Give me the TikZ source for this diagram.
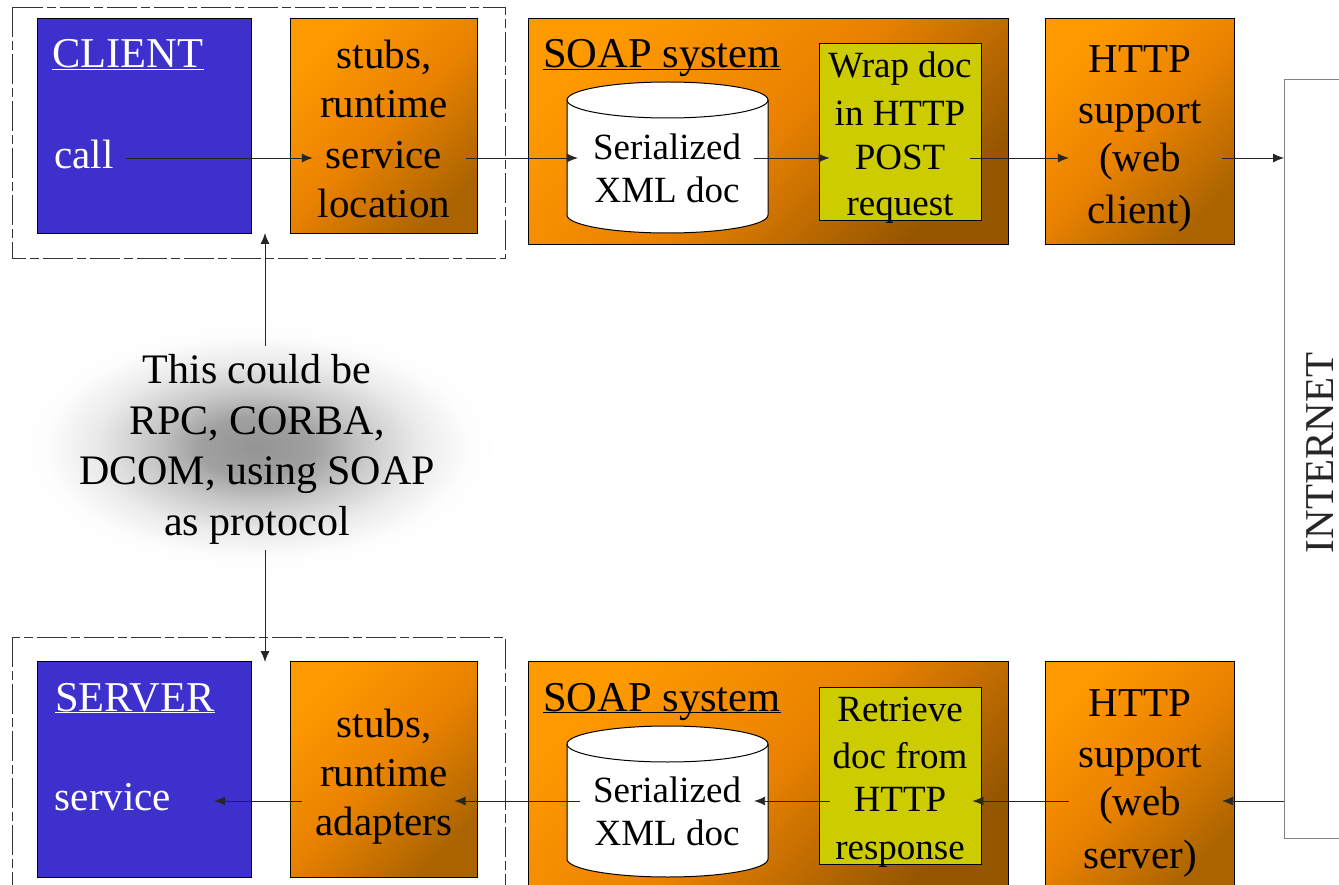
\documentclass[tikz,border=0pt]{standalone}
\usepackage{fontspec}
\setmainfont{Liberation Serif}
\usetikzlibrary{arrows.meta,positioning,calc,shadings}
\definecolor{clientblue}{RGB}{62,48,204}
\definecolor{orangehi}{RGB}{255,153,0}
\definecolor{orangemid}{RGB}{234,130,0}
\definecolor{orangelo}{RGB}{172,100,0}
\definecolor{soaplo}{RGB}{150,86,0}
\definecolor{wrapgreen}{RGB}{204,204,0}
\definecolor{netgray}{RGB}{130,130,130}
\pgfdeclareradialshading{glowshade}{\pgfpoint{0bp}{0bp}}{color(0bp)=(black!42); color(6bp)=(black!37); color(11bp)=(black!22); color(17bp)=(black!8); color(22bp)=(black!1); color(25bp)=(white); color(50bp)=(white)}
\newcommand{\ultext}[1]{\underline{\smash{#1}}}
\tikzset{
  blockbox/.style={draw=black,line width=1pt,top color=orangehi,bottom color=orangelo,middle color=orangemid,shading angle=45},
  soapbox/.style={draw=black,line width=1pt,top color=orangehi,bottom color=soaplo,middle color=orangemid,shading angle=45},
  clientbox/.style={draw=black,line width=1pt,fill=clientblue},
  wrapbox/.style={draw=black,line width=1pt,fill=wrapgreen},
  framebox/.style={draw=black!80,line width=0.9pt,dash pattern=on 30pt off 4pt on 9pt off 4pt},
  txt/.style={font=\fontsize{41}{41}\selectfont,inner sep=0pt,anchor=base},
  small/.style={font=\fontsize{37}{37}\selectfont,inner sep=0pt,anchor=base},
  note/.style={font=\fontsize{42}{42}\selectfont,inner sep=0pt,anchor=base},
  head/.style={font=\fontsize{42.5}{42.5}\selectfont,inner sep=0pt,anchor=base},
  whitetxt/.style={text=white},
  link/.style={-{Latex[length=11pt,width=9pt]},line width=0.9pt,black!85}
}
\begin{document}
\begin{tikzpicture}[x=1pt,y=-1pt]
    \clip (0,0) rectangle (1339,885);
    \useasboundingbox (0,0) rectangle (1339,885);

    % glow behind the note
    \shade[shading=glowshade] (257,447) ellipse (240 and 125);

    % dashed frames
    \draw[framebox] (12,7) rectangle (505,258);
    \draw[framebox] (12,637) rectangle (505,900);

    % top row
    \draw[clientbox] (37,19) rectangle (251,234);
    \draw[blockbox] (290,19) rectangle (477,234);
    \draw[soapbox] (528,19) rectangle (1008,245);
    \draw[blockbox] (1045,19) rectangle (1234,245);
    \draw[wrapbox] (819,44) rectangle (981,221);

    % bottom row
    \draw[clientbox] (37,661) rectangle (251,877);
    \draw[blockbox] (290,661) rectangle (477,877);
    \draw[soapbox] (528,661) rectangle (1008,889);
    \draw[blockbox] (1045,661) rectangle (1234,889);
    \draw[wrapbox] (819,687) rectangle (981,864);

    % cylinders
    \foreach \y in {0,644} {
      \draw[fill=white,line width=1pt] (567,100+\y) -- (567,215+\y) arc[start angle=180,end angle=0,x radius=100.5,y radius=18] -- (768,100+\y) arc[start angle=0,end angle=-180,x radius=100.5,y radius=18];
      \draw[line width=1pt] (567,100+\y) arc[start angle=180,end angle=0,x radius=100.5,y radius=18];
    }

    % internet
    \draw[netgray,line width=1pt] (1345,80) -- (1284,80) -- (1284,838) -- (1345,838);
    \node[font=\fontsize{41}{41}\selectfont,inner sep=0pt,anchor=base,rotate=90,text=black!85] (internet) at (1333,453) {INTERNET};

    % arrow rows
    \coordinate (row1) at (0,158);
    \coordinate (row2) at (0,801);
    \coordinate (net1) at (1284,158);
    \coordinate (net2) at (1284,801);
    \coordinate (topend) at (265,233);
    \coordinate (botend) at (265,662);

    % client texts
    \node[head,whitetxt] (client) at (128,68) {\ultext{CLIENT}};
    \node[txt,whitetxt] (call) at (84,169) {call};
    \node[txt] (stubs1) at (384,69) {stubs,};
    \node[txt] (run1) at (384,118) {runtime};
    \node[txt] (loc1) at (384,169) {service};
    \node[txt] (loc2) at (384,218) {location};
    \node[head] (soap1) at (662,68) {\ultext{SOAP system}};
    \node[small] (doc1) at (667,160) {Serialized};
    \node[small] (doc2) at (667,203) {XML doc};
    \node[small] (wrap1) at (900,78) {Wrap doc};
    \node[small] (wrap2) at (900,126) {in HTTP};
    \node[small] (wrap3) at (900,170) {POST};
    \node[small] (wrap4) at (900,216) {request};
    \node[txt] (http1) at (1140,73) {HTTP};
    \node[txt] (http2) at (1140,124) {support};
    \node[txt] (http3) at (1140,172) {(web};
    \node[txt] (http4) at (1140,224) {client)};

    % note
    \node[note] (note1) at (257,384) {This could be};
    \node[note] (note2) at (257,434) {RPC, CORBA,};
    \node[note] (note3) at (257,484) {DCOM, using SOAP};
    \node[note] (note4) at (257,535) {as protocol};

    % server texts
    \node[head,whitetxt] (server) at (135,711) {\ultext{SERVER}};
    \node[txt,whitetxt] (service) at (113,810) {service};
    \node[txt] (stubs2) at (384,737) {stubs,};
    \node[txt] (run2) at (384,786) {runtime};
    \node[txt] (adapt) at (384,835) {adapters};
    \node[head] (soap2) at (662,711) {\ultext{SOAP system}};
    \node[small] (doc3) at (667,802) {Serialized};
    \node[small] (doc4) at (667,845) {XML doc};
    \node[small] (ret1) at (900,721) {Retrieve};
    \node[small] (ret2) at (900,768) {doc from};
    \node[small] (ret3) at (900,811) {HTTP};
    \node[small] (ret4) at (900,859) {response};
    \node[txt] (http5) at (1140,716) {HTTP};
    \node[txt] (http6) at (1140,767) {support};
    \node[txt] (http7) at (1140,815) {(web};
    \node[txt] (http8) at (1140,868) {server)};

    % connectors
    \draw[link,shorten <=12pt,shorten >=13pt] (call.east |- row1) -- (loc1.west |- row1);
    \draw[link,shorten <=24pt,shorten >=15pt] (loc1.east |- row1) -- (doc1.west |- row1);
    \draw[link,shorten <=13pt,shorten >=25pt] (doc1.east |- row1) -- (wrap3.west |- row1);
    \draw[link,shorten <=25pt,shorten >=30pt] (wrap3.east |- row1) -- (http3.west |- row1);
    \draw[link,shorten <=41pt] (http3.east |- row1) -- (net1);
    \draw[link,shorten >=41pt] (net2) -- (http7.east |- row2);
    \draw[link,shorten <=30pt,shorten >=26pt] (http7.west |- row2) -- (ret3.east |- row2);
    \draw[link,shorten <=24pt,shorten >=13pt] (ret3.west |- row2) -- (doc3.east |- row2);
    \draw[link,shorten <=13pt,shorten >=2pt] (doc3.west |- row2) -- (adapt.east |- row2);
    \draw[link,shorten <=14pt,shorten >=43pt] (adapt.west |- row2) -- (service.east |- row2);
    \draw[link,shorten <=9pt] (topend |- note1.north) -- (topend);
    \draw[link,shorten <=6pt] (botend |- note4.south) -- (botend);
\end{tikzpicture}
\end{document}
